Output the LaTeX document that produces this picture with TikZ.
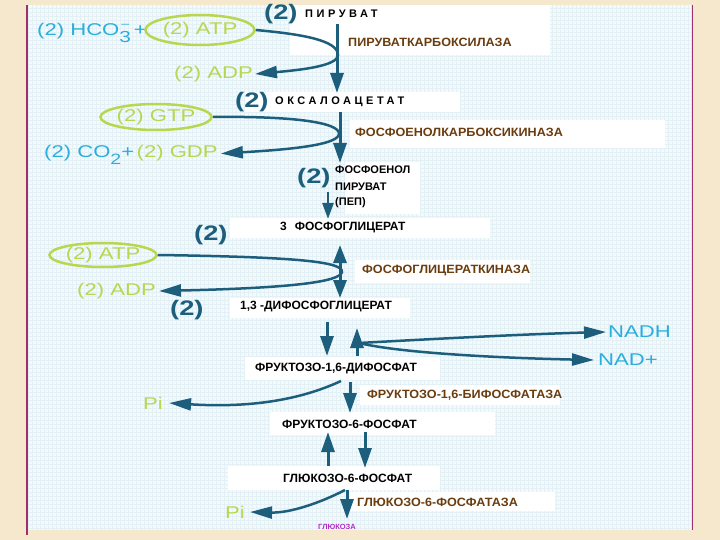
\documentclass[tikz,border=0pt]{standalone}
\usepackage{fontspec}
\setmainfont{Liberation Sans}
\newfontfamily\cfont[FakeStretch=1.3]{Liberation Sans}
\newfontfamily\lfont{Liberation Sans}
\newfontfamily\efont[FakeStretch=1.05]{Liberation Sans}
\newfontfamily\sfontx[LetterSpace=32]{Liberation Sans}
\usetikzlibrary{arrows.meta,shapes.geometric}
\definecolor{beige}{HTML}{F6E8CC}
\definecolor{panel}{HTML}{F3FAFC}
\definecolor{gridc}{HTML}{E3F1F7}
\definecolor{border}{HTML}{A0306A}
\definecolor{arr}{HTML}{1D5E7C}
\definecolor{grn}{HTML}{B8D64E}
\definecolor{cyn}{HTML}{2AAEDC}
\definecolor{brn}{HTML}{6A3C0E}
\definecolor{mag}{HTML}{B02EC0}
\tikzset{
 tx/.style={inner sep=0pt, anchor=west},
 lbl/.style={tx, font=\lfont\bfseries\fontsize{12}{15}\selectfont, text=black},
 spc/.style={tx, font=\sfontx\bfseries\fontsize{11}{12}\selectfont, text=black},
 enz/.style={tx, font=\efont\bfseries\fontsize{12}{12}\selectfont, text=brn},
 two/.style={tx, font=\cfont\bfseries\fontsize{21}{22}\selectfont, text=arr},
 gt/.style={tx, font=\cfont\fontsize{17}{18}\selectfont, text=grn},
 ct/.style={tx, font=\cfont\fontsize{17}{18}\selectfont, text=cyn},
 ell/.style={ellipse, draw=grn, line width=2.5pt, inner sep=0pt, font=\cfont\fontsize{17}{18}\selectfont, text=grn},
 flow/.style={draw=arr, line width=3pt, -{Triangle[length=20pt,width=13pt]}},
 sflow/.style={draw=arr, line width=2.5pt, -{Triangle[length=16pt,width=11pt]}},
 lp/.style={draw=arr, line width=2.5pt, -{Triangle[length=22pt,width=12pt]}},
 wb/.style={fill=white, draw=none},
}
\begin{document}
\begin{tikzpicture}[x=1pt,y=-1pt]
\useasboundingbox (0,0) rectangle (720,540);
% background
\fill[beige] (0,0) rectangle (720,540);
\fill[panel] (28,5) rectangle (691,530);
\draw[gridc, line width=0.25pt, step=4pt] (28,5) grid (691,530);
\draw[border, line width=1.2pt] (27,5) -- (27,535);
\draw[border, line width=1pt] (692,5) -- (692,530);
% white label areas
\fill[wb] (290,5) rectangle (550,55);
\fill[wb] (245,92) rectangle (460,112);
\fill[wb] (350,120) rectangle (665,148);
\fill[wb] (345,162) rectangle (420,214);
\fill[wb] (230,218) rectangle (490,238);
\fill[wb] (355,260) rectangle (530,283);
\fill[wb] (230,298) rectangle (410,318);
\fill[wb] (245,357) rectangle (440,380);
\fill[wb] (360,385) rectangle (560,405);
\fill[wb] (270,412) rectangle (495,435);
\fill[wb] (228,466) rectangle (440,490);
\fill[wb] (350,492) rectangle (555,511);

% text nodes
\node[two] (two1) at (264,14) {(2)};
\node[spc] (pyr) at (305,14) {ПИРУВАТ};
\node[enz] (pk) at (348,42) {ПИРУВАТКАРБОКСИЛАЗА};
\node[ct] (hco) at (37,33) {(2) HCO\rlap{\raisebox{8pt}{\fontsize{11}{11}\selectfont \,–}}\raisebox{-7pt}{\fontsize{16}{16}\selectfont 3}\,+};
\node[ell, minimum width=109pt, minimum height=30pt] (atp1) at (200,30) {(2) ATP};
\node[gt] (adp1) at (174,74) {(2) ADP};

\node[two] (two2) at (235,102) {(2)};
\node[spc] (oxa) at (275,102) {ОКСАЛОАЦЕТАТ};
\node[ell, minimum width=98pt, minimum height=26pt] (gtp) at (156,117) {(2) GTP};
\node[enz] (pepck) at (355,132) {ФОСФОЕНОЛКАРБОКСИКИНАЗА};
\node[ct, anchor=base west] (co2) at (44,158) {(2) CO\raisebox{-7pt}{\fontsize{15}{15}\selectfont 2}+};
\node[gt, anchor=base west] (gdp) at ([xshift=2pt]co2.base east) {(2) GDP};

\node[two] (two3) at (297,178) {(2)};
\node[lbl, font=\lfont\bfseries\fontsize{11}{13}\selectfont] (pep1) at (335,170) {ФОСФОЕНОЛ};
\node[lbl, font=\lfont\bfseries\fontsize{11}{13}\selectfont] (pep2) at (335,186.5) {ПИРУВАТ};
\node[lbl, font=\lfont\bfseries\fontsize{11}{13}\selectfont] (pep3) at (335,203) {(ПЕП)};

\node[two] (two4) at (194,235) {(2)};
\node[lbl] (pga) at (280,228) {3\hspace{8pt}ФОСФОГЛИЦЕРАТ};
\node[ell, minimum width=107pt, minimum height=24pt] (atp2) at (103,255) {(2) ATP};
\node[gt] (adp2) at (77,291) {(2) ADP};
\node[two] (two5) at (170,310) {(2)};
\node[enz] (pgk) at (362,271) {ФОСФОГЛИЦЕРАТКИНАЗА};
\node[lbl] (bpg) at (240,307) {1,3 -ДИФОСФОГЛИЦЕРАТ};

\node[ct, font=\cfont\fontsize{17}{18}\selectfont] (nadh) at (608,332) {NADH};
\node[ct, font=\cfont\fontsize{17}{18}\selectfont] (nadp) at (598,360) {NAD+};

\node[lbl] (fbp) at (255,369) {ФРУКТОЗО-1,6-ДИФОСФАТ};
\node[enz] (fbpase) at (367,395) {ФРУКТОЗО-1,6-БИФОСФАТАЗА};
\node[gt] (pi1) at (143,403) {Pi};
\node[lbl] (f6p) at (282,424) {ФРУКТОЗО-6-ФОСФАТ};
\node[lbl] (g6p) at (283,478) {ГЛЮКОЗО-6-ФОСФАТ};
\node[enz] (g6pase) at (357,502) {ГЛЮКОЗО-6-ФОСФАТАЗА};
\node[gt] (pi2) at (225,512) {Pi};
\node[tx, font=\lfont\bfseries\fontsize{7.5}{8}\selectfont, text=mag] (glc) at (318,527) {ГЛЮКОЗА};

% arrow end points
\coordinate (a1s) at (337,24);  \coordinate (a1e) at (337,93);
\coordinate (a2s) at (340,112); \coordinate (a2e) at (340,163);
\coordinate (a3s) at (328,192); \coordinate (a3e) at (328,219);
\coordinate (a4s) at (340,245); \coordinate (a4e) at (340,298);
\coordinate (a5s) at (327,322); \coordinate (a5e) at (327,356);
\coordinate (a6s) at (357,356); \coordinate (a6e) at (357,328);
\coordinate (a7s) at (350,382); \coordinate (a7e) at (350,413);
\coordinate (a8s) at (328,466); \coordinate (a8e) at (328,432);
\coordinate (a9s) at (365,432); \coordinate (a9e) at (365,468);
\coordinate (a10s) at (347,490); \coordinate (a10e) at (347,519);
\coordinate (ns) at (359,343);
\coordinate (p1s) at (341,381);
\coordinate (p2s) at (345,490);

% main arrows
\draw[flow] (a1s) -- (a1e);
\draw[flow] (a2s) -- (a2e);
\draw[sflow] (a3s) -- (a3e);
\draw[draw=arr, line width=3pt, {Triangle[length=18pt,width=13pt]}-{Triangle[length=18pt,width=13pt]}] (a4s) -- (a4e);
\draw[flow] (a5s) -- (a5e);
\draw[flow] (a6s) -- (a6e);
\draw[flow] (a7s) -- (a7e);
\draw[flow] (a8s) -- (a8e);
\draw[flow] (a9s) -- (a9e);
\draw[flow] (a10s) -- (a10e);

% loops
\draw[lp] (atp1.east) .. controls (300,34) and (338,40) .. (338,55) .. controls (338,66) and (300,70) .. ([xshift=2pt]adp1.east);
\draw[lp] (gtp.east) .. controls (290,116) and (340,122) .. (339,134) .. controls (338,146) and (280,150) .. ([xshift=3pt]gdp.east);
\draw[lp] (atp2.east) .. controls (300,257) and (343,262) .. (342,272) .. controls (340,282) and (290,288) .. ([xshift=3pt]adp2.east);
\draw[lp] (ns) .. controls (450,338) and (530,334) .. ([xshift=-2pt]nadh.west);
\draw[lp] (ns) .. controls (400,353) and (500,358) .. ([xshift=-4pt]nadp.west);
\draw[lp] (p1s) .. controls (300,400) and (250,408) .. ([xshift=6pt]pi1.east);
\draw[lp] (p2s) .. controls (320,503) and (290,513) .. ([xshift=5pt]pi2.east);
\end{tikzpicture}
\end{document}
